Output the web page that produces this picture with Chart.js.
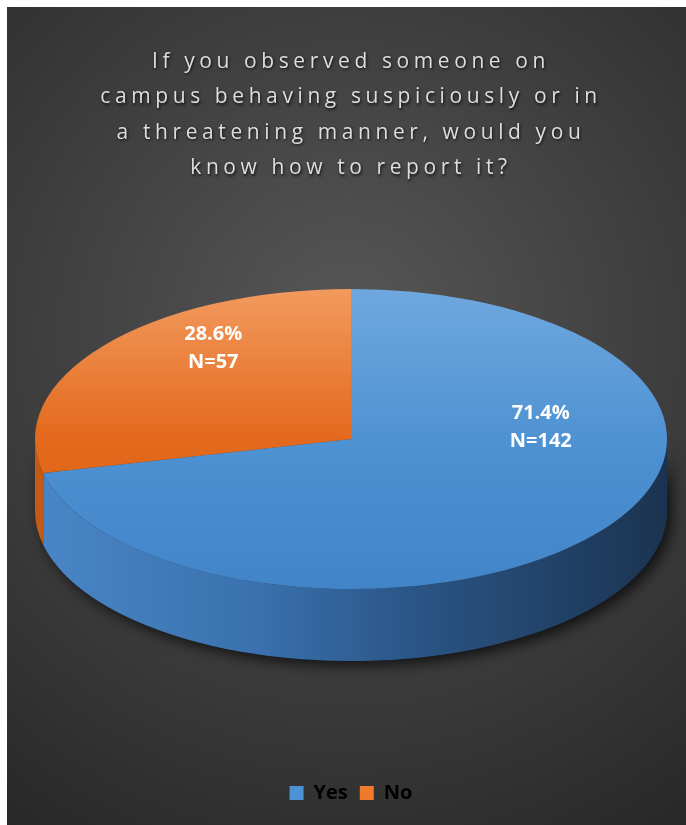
<!DOCTYPE html>
<html>
<head>
<meta charset="utf-8">
<script src="https://cdn.jsdelivr.net/npm/chart.js@4.4.1/dist/chart.umd.min.js"></script>
<style>
  html, body { margin: 0; padding: 0; background: #fff; }
</style>
</head>
<body>
<canvas id="pie" width="686" height="825"></canvas>
<script>
// survey answers
const categories = ['Yes', 'No'];
const counts = [142, 57];
const percents = [71.4, 28.6];
const titleLines = [
  'If you observed someone on',
  'campus behaving suspiciously or in',
  'a threatening manner, would you',
  'know how to report it?'
];

// look of the fake 3d pie
const TILT = 0.475;      // vertical squash of the top face
const DEPTH = 72;        // height of the side wall
const RADIUS = 316;
const topStops = [
  [[0, '#6fa8df'], [0.5, '#4f92d3'], [1, '#4184c8']],
  [[0, '#f29a5e'], [0.5, '#e3691c'], [1, '#d8600f']]
];
const sideStops = [
  [[0, '#4a86c7'], [0.35, '#3a71ae'], [0.6, '#2a5586'], [1, '#1b3350']],
  [[0, '#c45a14'], [1, '#8a3c0a']]
];
const legendColors = ['#4e92d6', '#ef7a2c'];
const labelShift = [[66, -58], [-14, -44]];

function wallPath(ctx, cx, cy, r, t0, t1) {
  ctx.beginPath();
  ctx.ellipse(cx, cy, r, r * TILT, 0, t0, t1);
  ctx.ellipse(cx, cy + DEPTH, r, r * TILT, 0, t1, t0, true);
  ctx.closePath();
}

function gradient(ctx, x0, y0, x1, y1, stops) {
  const g = ctx.createLinearGradient(x0, y0, x1, y1);
  stops.forEach(s => g.addColorStop(s[0], s[1]));
  return g;
}

const pie3d = {
  id: 'pie3d',
  beforeDraw(chart) {
    const { ctx, width, height } = chart;
    ctx.save();
    ctx.fillStyle = '#ffffff';
    ctx.fillRect(0, 0, width, height);
    const g = ctx.createRadialGradient(346, 330, 0, 346, 330, 620);
    g.addColorStop(0, '#575757');
    g.addColorStop(1, '#262626');
    ctx.fillStyle = g;
    ctx.fillRect(7, 7, width - 7, height - 7);
    ctx.restore();

    // spaced out title with a soft shadow
    const tb = chart.titleBlock;
    if (tb && !tb._spaced) {
      const draw = tb.draw.bind(tb);
      tb.draw = (area) => {
        const c = tb.ctx;
        c.save();
        c.letterSpacing = '4.6px';
        c.shadowColor = 'rgba(0,0,0,0.75)';
        c.shadowBlur = 3;
        c.shadowOffsetX = 1;
        c.shadowOffsetY = 1.5;
        draw(area);
        c.restore();
      };
      tb._spaced = true;
    }
  },
  beforeDatasetsDraw(chart) {
    const { ctx } = chart;
    const arcs = chart.getDatasetMeta(0).data;
    const { x: cx, y: cy, outerRadius: r } = arcs[0].getProps(['x', 'y', 'outerRadius'], true);

    // whole front wall once, for the drop shadow
    ctx.save();
    ctx.shadowColor = 'rgba(0,0,0,0.7)';
    ctx.shadowBlur = 14;
    ctx.shadowOffsetX = 5;
    ctx.shadowOffsetY = 5;
    wallPath(ctx, cx, cy, r, 0, Math.PI);
    ctx.fillStyle = '#1b3350';
    ctx.fill();
    ctx.restore();

    arcs.forEach((arc, i) => {
      const { startAngle, endAngle } = arc.getProps(['startAngle', 'endAngle'], true);
      for (let k = -1; k <= 1; k++) {
        const t0 = Math.max(startAngle, k * 2 * Math.PI);
        const t1 = Math.min(endAngle, k * 2 * Math.PI + Math.PI);
        if (t1 <= t0) continue;
        wallPath(ctx, cx, cy, r, t0, t1);
        ctx.fillStyle = gradient(ctx, cx - r, 0, cx + r, 0, sideStops[i]);
        ctx.fill();
      }
    });

    // squash the top face
    ctx.save();
    ctx.translate(cx, cy);
    ctx.scale(1, TILT);
    ctx.translate(-cx, -cy);
  },
  afterDatasetsDraw(chart) {
    const { ctx } = chart;
    ctx.restore();
    const arcs = chart.getDatasetMeta(0).data;
    ctx.save();
    ctx.font = 'bold 20px "Open Sans"';
    ctx.fillStyle = '#ffffff';
    ctx.textAlign = 'center';
    ctx.textBaseline = 'middle';
    arcs.forEach((arc, i) => {
      const p = arc.tooltipPosition(true);
      const x = p.x + labelShift[i][0];
      const y = arc.y + (p.y - arc.y) * TILT + labelShift[i][1];
      ctx.fillText(percents[i].toFixed(1) + '%', x, y - 14);
      ctx.fillText('N=' + counts[i], x, y + 14);
    });
    ctx.restore();
  }
};

new Chart(document.getElementById('pie'), {
  type: 'pie',
  data: {
    labels: categories,
    datasets: [{
      data: counts,
      backgroundColor: (c) => {
        const area = c.chart.chartArea;
        if (!area) return legendColors[c.dataIndex];
        const cy = (area.top + area.bottom) / 2;
        return gradient(c.chart.ctx, 0, cy - RADIUS, 0, cy + RADIUS, topStops[c.dataIndex]);
      },
      borderWidth: 0,
      clip: false
    }]
  },
  options: {
    responsive: false,
    animation: false,
    events: [],
    radius: RADIUS,
    layout: { padding: { top: 34, bottom: 12, left: 16, right: 0 } },
    plugins: {
      title: {
        display: true,
        text: titleLines,
        color: '#dedede',
        font: { family: '"Open Sans"', size: 21, weight: 'normal', lineHeight: '35.5px' },
        padding: { top: 10, bottom: -79 }
      },
      legend: {
        position: 'bottom',
        labels: {
          color: '#d9d9d9',
          font: { family: '"Open Sans"', size: 20, weight: 'bold' },
          boxWidth: 14,
          boxHeight: 14,
          padding: 12,
          generateLabels: () => categories.map((name, i) => ({
            text: name,
            fillStyle: legendColors[i],
            strokeStyle: legendColors[i],
            lineWidth: 0,
            hidden: false,
            index: i
          }))
        }
      },
      tooltip: { enabled: false }
    }
  },
  plugins: [pie3d]
});
</script>
</body>
</html>
